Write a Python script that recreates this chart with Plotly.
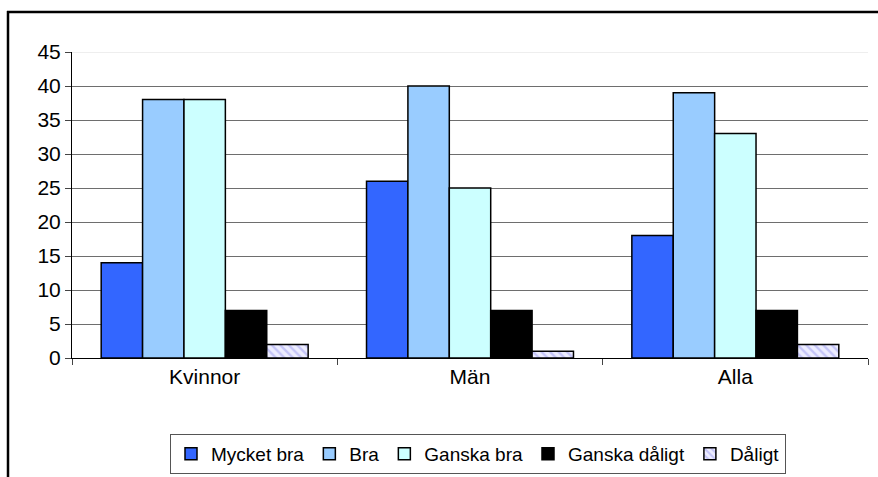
import plotly.graph_objects as go

categories = ["Kvinnor", "Män", "Alla"]
series_names = ["Mycket bra", "Bra", "Ganska bra", "Ganska dåligt", "Dåligt"]
mycket_bra = [14, 26, 18]
bra = [38, 40, 39]
ganska_bra = [38, 25, 33]
ganska_daligt = [7, 7, 7]
daligt = [2, 1, 2]
y_ticks = [0, 5, 10, 15, 20, 25, 30, 35, 40, 45]

series_values = [mycket_bra, bra, ganska_bra, ganska_daligt, daligt]
colors = ["#3366FF", "#99CCFF", "#CCFFFF", "#000000", "#E4E4FF"]

FONT = "Liberation Sans, Arial, sans-serif"
FS = 21

fig = go.Figure()
for name, vals, col in zip(series_names, series_values, colors):
    marker = dict(color=col, line=dict(color="black", width=1.5))
    if name == "Dåligt":
        marker["pattern"] = dict(shape="\\", fgcolor="#9C9CF0", bgcolor="#EDEDFF",
                                 size=6, solidity=0.4)
    fig.add_trace(go.Bar(name=name, x=categories, y=vals, marker=marker))

W, H = 878, 477
L, R, T, B = 72, 10, 52, 119
pw, ph = W - L - R, H - T - B

def px_x(p):
    return (p - L) / pw

def px_y(p):
    return (H - B - p) / ph

fig.update_layout(
    width=W, height=H,
    margin=dict(l=L, r=R, t=T, b=B, autoexpand=False),
    paper_bgcolor="white", plot_bgcolor="white",
    barmode="group", bargap=0.22, bargroupgap=0,
    font=dict(family=FONT, size=FS, color="black"),
    showlegend=True,
    legend=dict(orientation="h", x=px_x(478), xanchor="center",
                y=px_y(434), yanchor="top",
                bordercolor="#555555", borderwidth=1,
                font=dict(family=FONT, size=19),
                itemwidth=30, tracegroupgap=0),
    xaxis=dict(type="category", showline=True, linecolor="#000000", linewidth=1,
               ticks="outside", tickson="boundaries", ticklen=6, tickcolor="#444444",
               showgrid=False, tickfont=dict(size=FS)),
    yaxis=dict(range=[0, 45], tickvals=y_ticks, showline=True, linecolor="#000000",
               linewidth=1, ticks="outside", ticklen=6, tickcolor="#444444",
               showgrid=True, gridcolor="#6e6e6e", gridwidth=1, zeroline=False,
               tickfont=dict(size=FS)),
    shapes=[
        dict(type="line", xref="paper", yref="y", x0=0, x1=1, y0=45, y1=45,
             line=dict(color="#e8e8e8", width=1.5), layer="above"),
        dict(type="line", xref="paper", yref="paper",
             x0=px_x(7), x1=px_x(880), y0=px_y(12), y1=px_y(12),
             line=dict(color="black", width=2.5), layer="below"),
        dict(type="line", xref="paper", yref="paper",
             x0=px_x(8), x1=px_x(8), y0=px_y(11), y1=px_y(480),
             line=dict(color="black", width=2.5), layer="below"),
    ],
)

fig.write_html("out.html", config=dict(displayModeBar=False),
               post_script="document.body.style.margin='0';document.body.style.overflow='hidden';")
